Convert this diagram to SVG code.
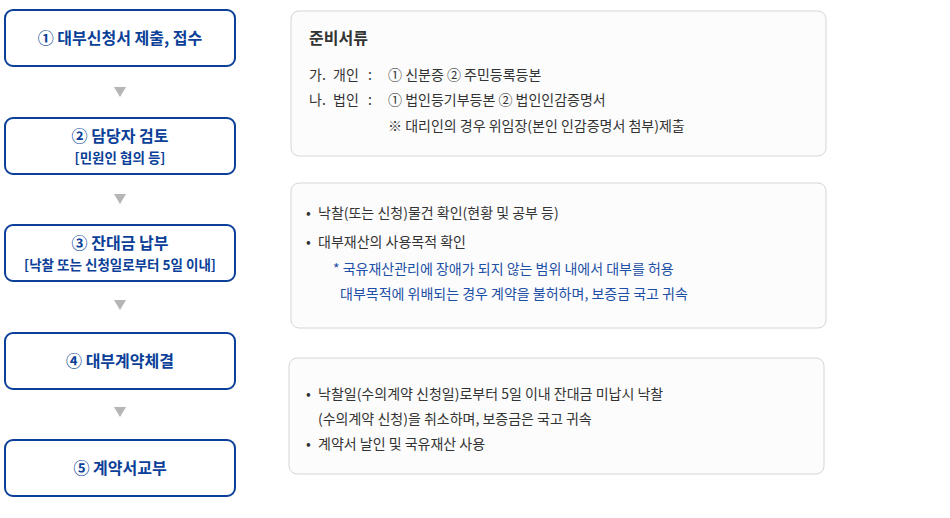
<svg xmlns="http://www.w3.org/2000/svg" width="950" height="518" viewBox="0 0 950 518">
<style>
text{font-family:"Noto Sans CJK KR","Noto Sans",sans-serif}
.step rect{fill:#fff;stroke:#0b3f98;stroke-width:2}
.st{font-size:16px;font-weight:700;fill:#0b3f98;text-anchor:middle}
.ss{font-size:13.5px;font-weight:700;fill:#0b3f98;text-anchor:middle}
.panel rect{fill:#fcfcfc;stroke:#d6d6d6;stroke-width:1}
.t{font-size:14px;fill:#333}
.h{font-size:16px;font-weight:700;fill:#333}
.b{font-size:14px;fill:#1d4fa6}
.arr{fill:#b5b5b5}
</style>
<g id="step1" class="step"><rect x="5" y="10" width="230" height="56" rx="8"/><text class="st" x="120" y="44">① 대부신청서 제출, 접수</text></g>
<g id="step2" class="step"><rect x="5" y="118" width="230" height="56" rx="8"/><text class="st" x="120" y="142">② 담당자 검토</text><text class="ss" x="120" y="163">[민원인 협의 등]</text></g>
<g id="step3" class="step"><rect x="5" y="225" width="230" height="56" rx="8"/><text class="st" x="120" y="249">③ 잔대금 납부</text><text class="ss" x="120" y="270">[낙찰 또는 신청일로부터 5일 이내]</text></g>
<g id="step4" class="step"><rect x="5" y="333" width="230" height="56" rx="8"/><text class="st" x="120" y="367">④ 대부계약체결</text></g>
<g id="step5" class="step"><rect x="5" y="440" width="230" height="56" rx="8"/><text class="st" x="120" y="474">⑤ 계약서교부</text></g>
<g id="connectors">
<polygon class="arr" points="114,87 126,87 120,97"/>
<polygon class="arr" points="114,194 126,194 120,204"/>
<polygon class="arr" points="114,300 126,300 120,310"/>
<polygon class="arr" points="114,407 126,407 120,417"/>
</g>
<g id="panel1" class="panel"><rect x="291" y="11" width="535" height="145" rx="8"/>
<text class="h" x="309" y="44">준비서류</text>
<text class="t" x="309" y="80">가.</text><text class="t" x="333" y="80">개인</text><text class="t" x="368" y="80">:</text><text class="t" x="388" y="80">① 신분증 ② 주민등록등본</text>
<text class="t" x="309" y="105">나.</text><text class="t" x="333" y="105">법인</text><text class="t" x="368" y="105">:</text><text class="t" x="388" y="105">① 법인등기부등본 ② 법인인감증명서</text>
<text class="t" x="388" y="131">※ 대리인의 경우 위임장(본인 인감증명서 첨부)제출</text>
</g>
<g id="panel2" class="panel"><rect x="291" y="183" width="535" height="145" rx="8"/>
<text class="t" x="306" y="218">•</text><text class="t" x="318" y="218">낙찰(또는 신청)물건 확인(현황 및 공부 등)</text>
<text class="t" x="306" y="247">•</text><text class="t" x="318" y="247">대부재산의 사용목적 확인</text>
<text class="b" x="333" y="274">* 국유재산관리에 장애가 되지 않는 범위 내에서 대부를 허용</text>
<text class="b" x="340" y="299">대부목적에 위배되는 경우 계약을 불허하며, 보증금 국고 귀속</text>
</g>
<g id="panel3" class="panel"><rect x="289" y="358" width="535" height="116" rx="8"/>
<text class="t" x="306" y="399">•</text><text class="t" x="318" y="399">낙찰일(수의계약 신청일)로부터 5일 이내 잔대금 미납시 낙찰</text>
<text class="t" x="318" y="424">(수의계약 신청)을 취소하며, 보증금은 국고 귀속</text>
<text class="t" x="306" y="449">•</text><text class="t" x="318" y="449">계약서 날인 및 국유재산 사용</text>
</g>
</svg>
